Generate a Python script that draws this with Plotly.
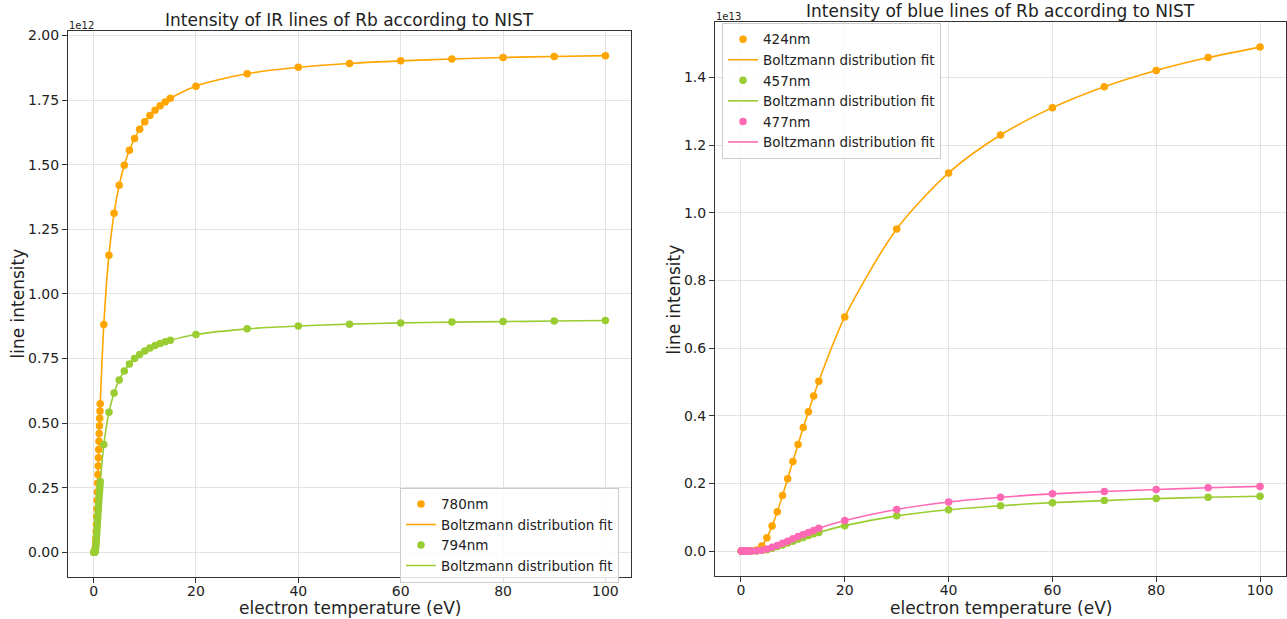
import plotly.graph_objects as go

# electron temperatures (eV)
T_low = [0.05, 0.10, 0.15, 0.20, 0.25, 0.30, 0.35, 0.40, 0.45, 0.50, 0.55, 0.60, 0.65,
         0.70, 0.75, 0.80, 0.85, 0.90, 0.95, 1.00, 1.05, 1.10, 1.15, 1.20, 1.25, 1.30]
T_high = [2, 3, 4, 5, 6, 7, 8, 9, 10, 11, 12, 13, 14, 15, 20, 30, 40, 50, 60, 70, 80, 90, 100]
temps = T_low + T_high

# IR lines (units of 1e12)
i780 = [0.000, 0.000, 0.000, 0.001, 0.003, 0.010, 0.021, 0.037, 0.057, 0.081, 0.109, 0.138, 0.169,
        0.202, 0.234, 0.268, 0.301, 0.334, 0.366, 0.398, 0.430, 0.460, 0.490, 0.519, 0.547, 0.575,
        0.882, 1.150, 1.312, 1.421, 1.498, 1.556, 1.601, 1.637, 1.666, 1.690, 1.711, 1.728, 1.743,
        1.757, 1.804, 1.852, 1.877, 1.892, 1.902, 1.909, 1.915, 1.919, 1.922]
i794 = [0.000, 0.000, 0.000, 0.000, 0.002, 0.005, 0.011, 0.018, 0.028, 0.040, 0.053, 0.068, 0.083,
        0.098, 0.114, 0.130, 0.145, 0.161, 0.176, 0.191, 0.206, 0.221, 0.235, 0.248, 0.262, 0.274,
        0.417, 0.542, 0.617, 0.667, 0.702, 0.729, 0.750, 0.766, 0.779, 0.791, 0.800, 0.808, 0.815,
        0.821, 0.843, 0.865, 0.876, 0.883, 0.888, 0.891, 0.893, 0.895, 0.897]

# blue lines (units of 1e13)
zeros_low = [0.0] * 26
i424 = zeros_low + [0.000, 0.003, 0.015, 0.039, 0.074, 0.116, 0.164, 0.214, 0.265, 0.315, 0.365,
                    0.412, 0.458, 0.502, 0.692, 0.952, 1.118, 1.230, 1.311, 1.373, 1.421, 1.459, 1.490]
i457 = zeros_low + [0.000, 0.000, 0.002, 0.004, 0.008, 0.013, 0.018, 0.024, 0.029, 0.035, 0.040,
                    0.046, 0.051, 0.055, 0.075, 0.104, 0.122, 0.134, 0.143, 0.149, 0.155, 0.159, 0.162]
i477 = zeros_low + [0.000, 0.001, 0.002, 0.006, 0.011, 0.016, 0.023, 0.029, 0.036, 0.043, 0.049,
                    0.055, 0.061, 0.067, 0.090, 0.123, 0.145, 0.159, 0.169, 0.176, 0.182, 0.187, 0.191]

ORANGE = "#FFA500"
GREEN = "#9ACD32"
PINK = "#FF69B4"
FONT = "DejaVu Sans"
TXT = "#222222"

W, H = 1287, 619

def px(x):
    return x / W

def py(y):
    return (H - y) / H

fig = go.Figure()

def add_pair(x, y, name, color, xa, ya, leg):
    fig.add_trace(go.Scatter(x=x, y=y, mode="markers", name=name,
                             marker=dict(color=color, size=7.5),
                             xaxis=xa, yaxis=ya, legend=leg))
    fig.add_trace(go.Scatter(x=x, y=y, mode="lines", name="Boltzmann distribution fit",
                             line=dict(color=color, width=1.6, shape="spline", smoothing=0.8),
                             xaxis=xa, yaxis=ya, legend=leg))

add_pair(temps, i780, "780nm", ORANGE, "x", "y", "legend")
add_pair(temps, i794, "794nm", GREEN, "x", "y", "legend")
add_pair(temps, i424, "424nm", ORANGE, "x2", "y2", "legend2")
add_pair(temps, i457, "457nm", GREEN, "x2", "y2", "legend2")
add_pair(temps, i477, "477nm", PINK, "x2", "y2", "legend2")

axis_common = dict(showline=True, mirror=True, linecolor="#333333", linewidth=1,
                   ticks="outside", ticklen=5, tickcolor="#333333",
                   showgrid=True, gridcolor="#e3e3e3", gridwidth=1, zeroline=False,
                   tickfont=dict(family=FONT, size=14, color=TXT))

fig.update_layout(
    width=W, height=H,
    margin=dict(l=0, r=0, t=0, b=0),
    paper_bgcolor="white", plot_bgcolor="white",
    font=dict(family=FONT, color=TXT),
    xaxis=dict(domain=[px(68), px(631)], range=[-5, 105], anchor="y",
               tickvals=[0, 20, 40, 60, 80, 100], ticklabelstandoff=-4, **axis_common),
    yaxis=dict(domain=[py(577), py(28)], range=[-0.0961, 2.018], anchor="x",
               tickvals=[0, 0.25, 0.5, 0.75, 1.0, 1.25, 1.5, 1.75, 2.0], tickformat=".2f",
               **axis_common),
    xaxis2=dict(domain=[px(715), px(1286)], range=[-5, 105], anchor="y2",
                tickvals=[0, 20, 40, 60, 80, 100], ticklabelstandoff=-4, **axis_common),
    yaxis2=dict(domain=[py(576), py(19)], range=[-0.0745, 1.5645], anchor="x2",
                tickvals=[0, 0.2, 0.4, 0.6, 0.8, 1.0, 1.2, 1.4], tickformat=".1f",
                **axis_common),
    legend=dict(x=px(400), y=py(487), xanchor="left", yanchor="top",
                bgcolor="rgba(255,255,255,0.85)", bordercolor="#cccccc", borderwidth=1,
                font=dict(family=FONT, size=13.5, color=TXT), tracegroupgap=0),
    legend2=dict(x=px(722), y=py(20), xanchor="left", yanchor="top",
                 bgcolor="rgba(255,255,255,0.85)", bordercolor="#cccccc", borderwidth=1,
                 font=dict(family=FONT, size=13.5, color=TXT), tracegroupgap=0),
    showlegend=True,
)

annos = [
    dict(text="Intensity of IR lines of Rb according to NIST", x=px(349.5), y=py(17), size=17),
    dict(text="Intensity of blue lines of Rb according to NIST", x=px(1000.5), y=py(8), size=17),
    dict(text="electron temperature (eV)", x=px(349.5), y=py(608), size=17),
    dict(text="electron temperature (eV)", x=px(1000.5), y=py(608), size=17),
]
for a in annos:
    fig.add_annotation(text=a["text"], x=a["x"], y=a["y"], xref="paper", yref="paper",
                       xanchor="center", yanchor="middle", showarrow=False,
                       font=dict(family=FONT, size=a["size"], color=TXT))

fig.add_annotation(text="line intensity", x=px(18), y=py(302), xref="paper", yref="paper",
                   textangle=-90, showarrow=False, xanchor="center", yanchor="middle",
                   font=dict(family=FONT, size=17, color=TXT))
fig.add_annotation(text="line intensity", x=px(674), y=py(298), xref="paper", yref="paper",
                   textangle=-90, showarrow=False, xanchor="center", yanchor="middle",
                   font=dict(family=FONT, size=17, color=TXT))

fig.add_annotation(text="1e12", x=px(67), y=py(22.5), xref="paper", yref="paper",
                   xanchor="left", yanchor="middle", showarrow=False,
                   font=dict(family=FONT, size=10, color=TXT))
fig.add_annotation(text="1e13", x=px(714), y=py(13.5), xref="paper", yref="paper",
                   xanchor="left", yanchor="middle", showarrow=False,
                   font=dict(family=FONT, size=10, color=TXT))

fig.write_html("out.html")
